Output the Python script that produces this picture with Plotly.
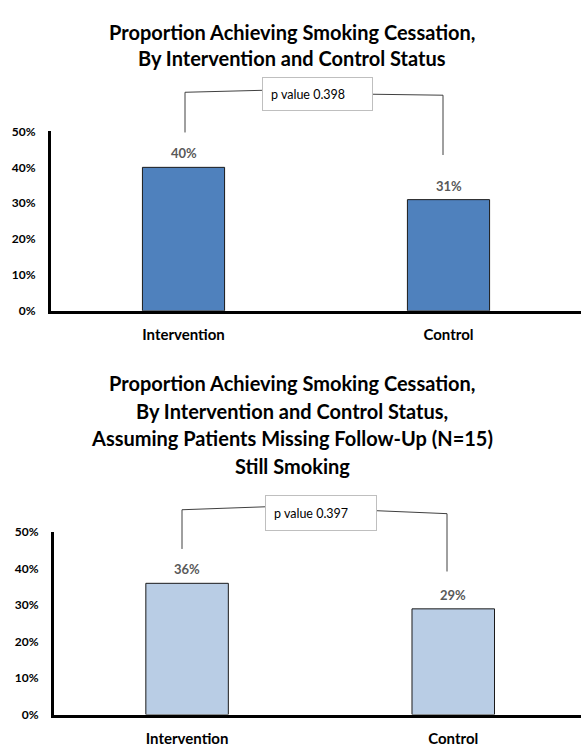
import plotly.graph_objects as go

# Smoking cessation results by study arm
groups = ["Intervention", "Control"]
cessation_observed = [0.40, 0.31]          # complete-case analysis
cessation_missing_smoking = [0.36, 0.29]   # missing follow-up counted as smoking
p_values = ["p value 0.398", "p value 0.397"]

title_top = [
    "Proportion Achieving Smoking Cessation,",
    "By Intervention and Control Status",
]
title_bottom = [
    "Proportion Achieving Smoking Cessation,",
    "By Intervention and Control Status,",
    "Assuming Patients Missing Follow-Up (N=15)",
    "Still Smoking",
]
y_ticks = [0, 0.1, 0.2, 0.3, 0.4, 0.5]

W, H = 581, 749
FONT = "Lato"


def px(x):
    return x / W


def py(y):
    return 1 - y / H


fig = go.Figure()

fig.add_trace(go.Bar(
    x=groups, y=cessation_observed, width=0.31,
    marker=dict(color="#4F81BD", line=dict(color="#1a1a1a", width=1)),
    xaxis="x", yaxis="y", showlegend=False, hoverinfo="skip",
))
fig.add_trace(go.Bar(
    x=groups, y=cessation_missing_smoking, width=0.31,
    marker=dict(color="#B9CDE5", line=dict(color="#1a1a1a", width=1)),
    xaxis="x2", yaxis="y2", showlegend=False, hoverinfo="skip",
))

axis_common = dict(
    showline=True, linecolor="black", linewidth=3, showgrid=False,
    zeroline=False, ticks="", fixedrange=True,
)
xfont = dict(family=FONT, size=15, color="black", weight="bold")
yfont = dict(family=FONT, size=12, color="black", weight="bold")

fig.update_layout(
    width=W, height=H, autosize=False,
    margin=dict(l=0, r=0, t=0, b=0),
    paper_bgcolor="white", plot_bgcolor="white",
    font=dict(family=FONT),
    xaxis=dict(domain=[px(51), 1], range=[-0.5, 1.5], anchor="y",
               tickfont=xfont, ticklabelstandoff=8, **axis_common),
    yaxis=dict(domain=[py(309), py(126)], range=[0, 0.5], anchor="x",
               tickvals=y_ticks, tickformat=".0%", tickfont=yfont,
               ticklabelstandoff=10, **axis_common),
    xaxis2=dict(domain=[px(54), 1], range=[-0.5, 1.48], anchor="y2",
                tickfont=xfont, ticklabelstandoff=8, **axis_common),
    yaxis2=dict(domain=[py(721), py(535)], range=[0, 0.5], anchor="x2",
                tickvals=y_ticks, tickformat=".0%", tickfont=yfont,
                ticklabelstandoff=10, **axis_common),
)

annotations = []

# Chart titles, one annotation per line
for text, yc in zip(title_top, [24, 51]):
    annotations.append(dict(
        text=f"<b>{text}</b>", x=px(292), y=py(yc), xref="paper", yref="paper",
        xanchor="center", yanchor="middle", showarrow=False,
        font=dict(family=FONT, size=20, color="black"),
    ))
for text, yc in zip(title_bottom, [383, 411, 439, 467]):
    annotations.append(dict(
        text=f"<b>{text}</b>", x=px(292), y=py(yc), xref="paper", yref="paper",
        xanchor="center", yanchor="middle", showarrow=False,
        font=dict(family=FONT, size=20, color="black"),
    ))

# Value labels above each bar
for xa, ya, vals in [("x", "y", cessation_observed), ("x2", "y2", cessation_missing_smoking)]:
    for g, v in zip(groups, vals):
        annotations.append(dict(
            text=f"<b>{v:.0%}</b>", x=g, y=v, xref=xa, yref=ya,
            xanchor="center", yanchor="middle", yshift=14, showarrow=False,
            font=dict(family=FONT, size=13, color="#595959"),
        ))

# p-value boxes
for label, (x0, y0, x1, y1) in zip(p_values, [(262, 71, 373, 105), (265, 497, 377, 533)]):
    annotations.append(dict(
        text=label, x=px((x0 + x1) / 2), y=py((y0 + y1) / 2),
        xref="paper", yref="paper", xanchor="center", yanchor="middle",
        width=(x1 - x0) - 18, height=(y1 - y0) - 18, align="left", valign="middle",
        borderpad=8, borderwidth=1, bordercolor="#BFBFBF", bgcolor="white",
        showarrow=False, font=dict(family=FONT, size=12.5, color="black"),
    ))

fig.update_layout(annotations=annotations)

# Brackets linking the bars to the p-value boxes
brackets = [
    [(185, 127), (185, 86), (262, 84)],
    [(373, 88), (443, 89), (443, 150)],
    [(182, 552), (182, 512), (265, 509)],
    [(377, 513), (447, 516), (447, 575)],
]
for pts in brackets:
    path = "M " + " L ".join(f"{px(x)},{py(y)}" for x, y in pts)
    fig.add_shape(type="path", path=path, xref="paper", yref="paper",
                  line=dict(color="#404040", width=1), layer="below")

fig.write_html("out.html")
